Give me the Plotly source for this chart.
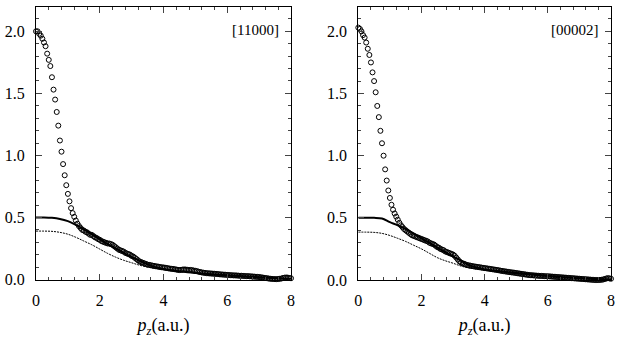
import plotly.graph_objects as go

# ---------------- data ----------------
x_step = 0.05  # sampling step of circle data (a.u.)
line_x = [0, 0.25, 0.5, 0.75, 1.0, 1.25, 1.5, 1.75, 2.0, 2.25, 2.5, 2.75, 3.0, 3.25, 3.5, 3.75,
          4.0, 4.25, 4.5, 4.75, 5.0, 5.25, 5.5, 5.75, 6.0, 6.25, 6.5, 6.75, 7.0, 7.25, 7.5, 7.75, 8.0]

left_circles = [
    2.00, 2.00, 1.98, 1.965, 1.94, 1.91, 1.88, 1.82, 1.77, 1.72,
    1.63, 1.53, 1.45, 1.35, 1.24, 1.12, 1.03, 0.93, 0.84, 0.76,
    0.69, 0.63, 0.575, 0.535, 0.505, 0.475, 0.45, 0.43, 0.415, 0.40,
    0.395, 0.385, 0.38, 0.37, 0.36, 0.36, 0.35, 0.34, 0.335, 0.325,
    0.32, 0.31, 0.305, 0.30, 0.295, 0.29, 0.29, 0.285, 0.28, 0.27,
    0.26, 0.25, 0.24, 0.235, 0.23, 0.225, 0.215, 0.21, 0.205, 0.20,
    0.19, 0.185, 0.175, 0.165, 0.155, 0.145, 0.14, 0.135, 0.13, 0.125,
    0.12, 0.118, 0.115, 0.112, 0.11, 0.107, 0.105, 0.103, 0.10, 0.098,
    0.097, 0.095, 0.093, 0.09, 0.088, 0.086, 0.085, 0.083, 0.08, 0.078,
    0.076, 0.078, 0.08, 0.081, 0.08, 0.078, 0.076, 0.077, 0.075, 0.072,
    0.07, 0.067, 0.063, 0.06, 0.057, 0.055, 0.053, 0.051, 0.05, 0.049,
    0.048, 0.047, 0.046, 0.045, 0.044, 0.042, 0.041, 0.04, 0.039, 0.038,
    0.037, 0.036, 0.035, 0.034, 0.033, 0.033, 0.032, 0.031, 0.03, 0.03,
    0.029, 0.028, 0.027, 0.027, 0.026, 0.025, 0.024, 0.023, 0.022, 0.021,
    0.02, 0.018, 0.016, 0.014, 0.012, 0.01, 0.008, 0.006, 0.005, 0.004,
    0.003, 0.003, 0.004, 0.006, 0.008, 0.012, 0.015, 0.016, 0.015, 0.012,
    0.01]

left_solid = [0.50, 0.50, 0.497, 0.488, 0.47, 0.44, 0.405, 0.365, 0.325, 0.285, 0.25, 0.215,
              0.18, 0.15, 0.122, 0.10, 0.085, 0.074, 0.066, 0.059, 0.053, 0.048, 0.043, 0.039,
              0.035, 0.031, 0.027, 0.023, 0.019, 0.015, 0.011, 0.008, 0.005]

left_dotted = [0.39, 0.39, 0.388, 0.38, 0.365, 0.34, 0.31, 0.28, 0.245, 0.21, 0.18, 0.155,
               0.135, 0.115, 0.10, 0.09, 0.08, 0.072, 0.064, 0.057, 0.051, 0.046, 0.042, 0.038,
               0.034, 0.030, 0.026, 0.022, 0.018, 0.014, 0.010, 0.007, 0.004]

right_circles = [
    2.03, 2.02, 2.00, 1.97, 1.95, 1.91, 1.86, 1.81, 1.75, 1.67,
    1.60, 1.51, 1.40, 1.31, 1.20, 1.10, 1.00, 0.89, 0.80, 0.72,
    0.66, 0.605, 0.565, 0.535, 0.51, 0.485, 0.46, 0.44, 0.425, 0.41,
    0.40, 0.39, 0.38, 0.37, 0.36, 0.355, 0.35, 0.345, 0.34, 0.335,
    0.33, 0.325, 0.32, 0.315, 0.31, 0.30, 0.295, 0.29, 0.285, 0.275,
    0.265, 0.26, 0.25, 0.245, 0.24, 0.23, 0.225, 0.22, 0.215, 0.21,
    0.205, 0.195, 0.18, 0.165, 0.15, 0.14, 0.135, 0.13, 0.125, 0.12,
    0.118, 0.115, 0.112, 0.11, 0.108, 0.106, 0.104, 0.102, 0.10, 0.098,
    0.096, 0.094, 0.092, 0.09, 0.088, 0.086, 0.084, 0.082, 0.08, 0.078,
    0.075, 0.073, 0.071, 0.069, 0.067, 0.065, 0.063, 0.061, 0.06, 0.058,
    0.056, 0.054, 0.052, 0.05, 0.048, 0.046, 0.044, 0.042, 0.04, 0.039,
    0.038, 0.037, 0.036, 0.035, 0.034, 0.033, 0.033, 0.032, 0.031, 0.03,
    0.03, 0.029, 0.028, 0.027, 0.026, 0.025, 0.024, 0.023, 0.022, 0.021,
    0.02, 0.019, 0.018, 0.017, 0.016, 0.015, 0.014, 0.013, 0.012, 0.011,
    0.01, 0.009, 0.008, 0.007, 0.006, 0.005, 0.004, 0.003, 0.002, 0.001,
    0.0, 0.0, 0.0, 0.001, 0.002, 0.004, 0.008, 0.012, 0.015, 0.013,
    0.01]

right_solid = [0.50, 0.50, 0.50, 0.495, 0.465, 0.44, 0.41, 0.375, 0.335, 0.30, 0.26, 0.225,
               0.19, 0.155, 0.12, 0.10, 0.085, 0.077, 0.07, 0.063, 0.056, 0.05, 0.044, 0.038,
               0.032, 0.027, 0.022, 0.018, 0.014, 0.011, 0.008, 0.006, 0.005]

right_dotted = [0.385, 0.385, 0.383, 0.375, 0.358, 0.335, 0.31, 0.28, 0.25, 0.215, 0.18, 0.155,
                0.135, 0.112, 0.097, 0.088, 0.08, 0.073, 0.066, 0.059, 0.052, 0.046, 0.04, 0.035,
                0.03, 0.025, 0.02, 0.016, 0.012, 0.009, 0.007, 0.005, 0.004]

panel_labels = ["[11000]", "[00002]"]
x_ticks = [0, 2, 4, 6, 8]
y_ticks = [0.0, 0.5, 1.0, 1.5, 2.0]
y_tick_text = ["0.0", "0.5", "1.0", "1.5", "2.0"]

# ---------------- figure ----------------
FONT = "'Liberation Serif', 'DejaVu Serif', serif"
fig = go.Figure()

panels = [
    (left_circles, left_solid, left_dotted, "x", "y"),
    (right_circles, right_solid, right_dotted, "x2", "y2"),
]
for circ, solid, dotted, xa, ya in panels:
    cx = [round(i * x_step, 4) for i in range(len(circ))]
    fig.add_trace(go.Scatter(x=line_x, y=dotted, mode="lines", xaxis=xa, yaxis=ya,
                             line=dict(color="black", width=1, dash="2px,1px", shape="spline"),
                             showlegend=False))
    fig.add_trace(go.Scatter(x=line_x, y=solid, mode="lines", xaxis=xa, yaxis=ya,
                             line=dict(color="black", width=2, shape="spline"),
                             showlegend=False))
    fig.add_trace(go.Scatter(x=cx, y=circ, mode="markers", xaxis=xa, yaxis=ya,
                             marker=dict(symbol="circle-open", size=5, color="black",
                                         line=dict(width=1, color="black")),
                             cliponaxis=False, showlegend=False))

common_x = dict(range=[0, 8], tickvals=x_ticks, ticks="inside", ticklen=6, tickwidth=1,
                mirror="allticks", showline=True, linecolor="black", linewidth=1,
                showgrid=False, zeroline=False, automargin=False,
                minor=dict(ticks="inside", dtick=0.4, tick0=0, ticklen=3, tickwidth=1,
                           showgrid=False),
                tickfont=dict(family=FONT, size=16, color="black"), ticklabelstandoff=6,
                title=dict(text="<i>p<sub>z</sub></i>(a.u.)",
                           font=dict(family=FONT, size=18, color="black"), standoff=10))
common_y = dict(range=[0, 2.2], tickvals=y_ticks, ticktext=y_tick_text, ticks="inside",
                ticklen=6, tickwidth=1, mirror="allticks", showline=True, linecolor="black",
                linewidth=1, showgrid=False, zeroline=False, automargin=False,
                minor=dict(ticks="inside", dtick=0.1, tick0=0, ticklen=3, tickwidth=1,
                           showgrid=False),
                tickfont=dict(family=FONT, size=16, color="black"), ticklabelstandoff=7)

fig.update_layout(
    width=630, height=340,
    margin=dict(l=0, r=0, t=0, b=0),
    font=dict(family=FONT, color="black"),
    paper_bgcolor="white", plot_bgcolor="white",
    xaxis=dict(domain=[36 / 630, 291 / 630], anchor="y", **common_x),
    yaxis=dict(domain=[1 - 279.5 / 340, 1 - 6.5 / 340], anchor="x", **common_y),
    xaxis2=dict(domain=[358.3 / 630, 611 / 630], anchor="y2", **common_x),
    yaxis2=dict(domain=[1 - 280 / 340, 1 - 6.5 / 340], anchor="x2", **common_y),
)

for lbl, xr, yr in [(panel_labels[0], "x domain", "y domain"),
                    (panel_labels[1], "x2 domain", "y2 domain")]:
    fig.add_annotation(text=lbl, xref=xr, yref=yr, x=0.96, y=0.915,
                       xanchor="right", yanchor="middle", showarrow=False,
                       font=dict(family=FONT, size=15, color="black"))

fig.write_html("out.html")
